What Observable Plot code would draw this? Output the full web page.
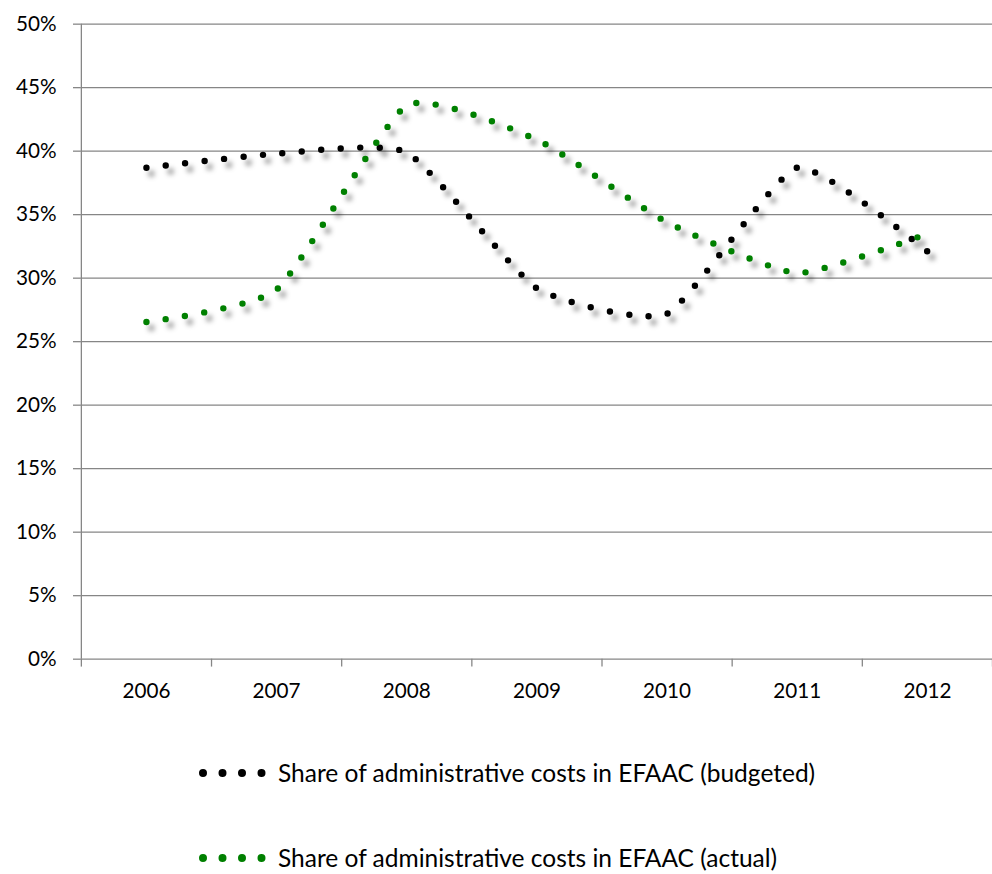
<!DOCTYPE html>
<html>
<head>
<meta charset="utf-8">
<script src="https://cdn.jsdelivr.net/npm/d3@7"></script>
<script src="https://cdn.jsdelivr.net/npm/@observablehq/plot@0.6"></script>
<style>
  html, body { margin: 0; padding: 0; background: #fff; overflow: hidden; width: 992px; height: 874px; }
  #chart { position: absolute; left: 0; top: 0; }
  .legend { position: absolute; left: 198px; height: 30px; font-family: Lato, "Open Sans", sans-serif; font-size: 24.5px; line-height: 30px; color: #000; display: flex; align-items: center; white-space: nowrap; }
  .legend svg { margin-right: 10px; display: block; }
</style>
</head>
<body>
<div id="chart"></div>
<div id="legend"></div>
<script>
const years = [2006, 2007, 2008, 2009, 2010, 2011, 2012];
const budgeted = [0.387, 0.398, 0.399, 0.292, 0.272, 0.387, 0.321];
const actual = [0.2655, 0.291, 0.436, 0.409, 0.344, 0.304, 0.335];
const yTicks = [0, 0.05, 0.10, 0.15, 0.20, 0.25, 0.30, 0.35, 0.40, 0.45, 0.50];
const seriesNames = ["Share of administrative costs in EFAAC (budgeted)", "Share of administrative costs in EFAAC (actual)"];
const seriesColors = ["#000000", "#008000"];

const boundaries = d3.range(years[0] - 0.5, years[years.length - 1] + 1, 1);
const rowsB = years.map((y, i) => ({year: y, value: budgeted[i]}));
const rowsA = years.map((y, i) => ({year: y, value: actual[i]}));
const grid = "#868686";

const lineStyle = {x: "year", y: "value", curve: "cardinal", tension: 0.5, strokeWidth: 6.5, strokeDasharray: "0 19.8", strokeLinecap: "round"};

const plot = Plot.plot({
  width: 1006,
  height: 730,
  marginLeft: 82,
  marginRight: 0,
  marginTop: 24,
  marginBottom: 62,
  style: {fontFamily: "Lato, 'Open Sans', sans-serif", fontSize: "21px", color: "#000", background: "#fff", overflow: "visible"},
  x: {domain: [boundaries[0], boundaries[boundaries.length - 1]], axis: null},
  y: {domain: [0, 0.5], axis: null},
  marks: [
    Plot.gridY(yTicks, {stroke: grid, strokeOpacity: 1, strokeWidth: 1.3}),
    Plot.axisY(yTicks, {label: null, tickFormat: d => Math.round(d * 100) + "%", tickSize: 8, tickPadding: 17, stroke: grid, strokeWidth: 1.3, fill: "#000", fontSize: 21}),
    Plot.ruleX([boundaries[0]], {y1: 0, y2: 0.5, stroke: grid, strokeWidth: 1.3}),
    Plot.axisX(boundaries, {label: null, tickFormat: () => "", tickSize: 8, stroke: grid, strokeWidth: 1.3}),
    Plot.axisX(years, {label: null, tickFormat: d => String(d), tickSize: 0, tickPadding: 24, fill: "#000", fontSize: 21}),
    Plot.line(rowsB, {...lineStyle, stroke: seriesColors[0]}),
    Plot.line(rowsA, {...lineStyle, stroke: seriesColors[1]})
  ]
});

d3.select(plot).selectAll("g[aria-label=line] path")
  .style("filter", "drop-shadow(5px 6px 2.5px rgba(0,0,0,0.38))");

document.getElementById("chart").appendChild(plot);

const legend = document.getElementById("legend");
const tops = [758, 843];
seriesNames.forEach((name, i) => {
  const row = document.createElement("div");
  row.className = "legend";
  row.style.top = tops[i] + "px";
  const svg = d3.create("svg").attr("width", 70).attr("height", 26);
  svg.append("line").attr("x1", 5).attr("x2", 63.6).attr("y1", 13).attr("y2", 13)
    .attr("stroke", seriesColors[i]).attr("stroke-width", 8)
    .attr("stroke-linecap", "round").attr("stroke-dasharray", "0 19.5");
  row.appendChild(svg.node());
  const span = document.createElement("span");
  span.textContent = name;
  row.appendChild(span);
  legend.appendChild(row);
});
</script>
</body>
</html>
